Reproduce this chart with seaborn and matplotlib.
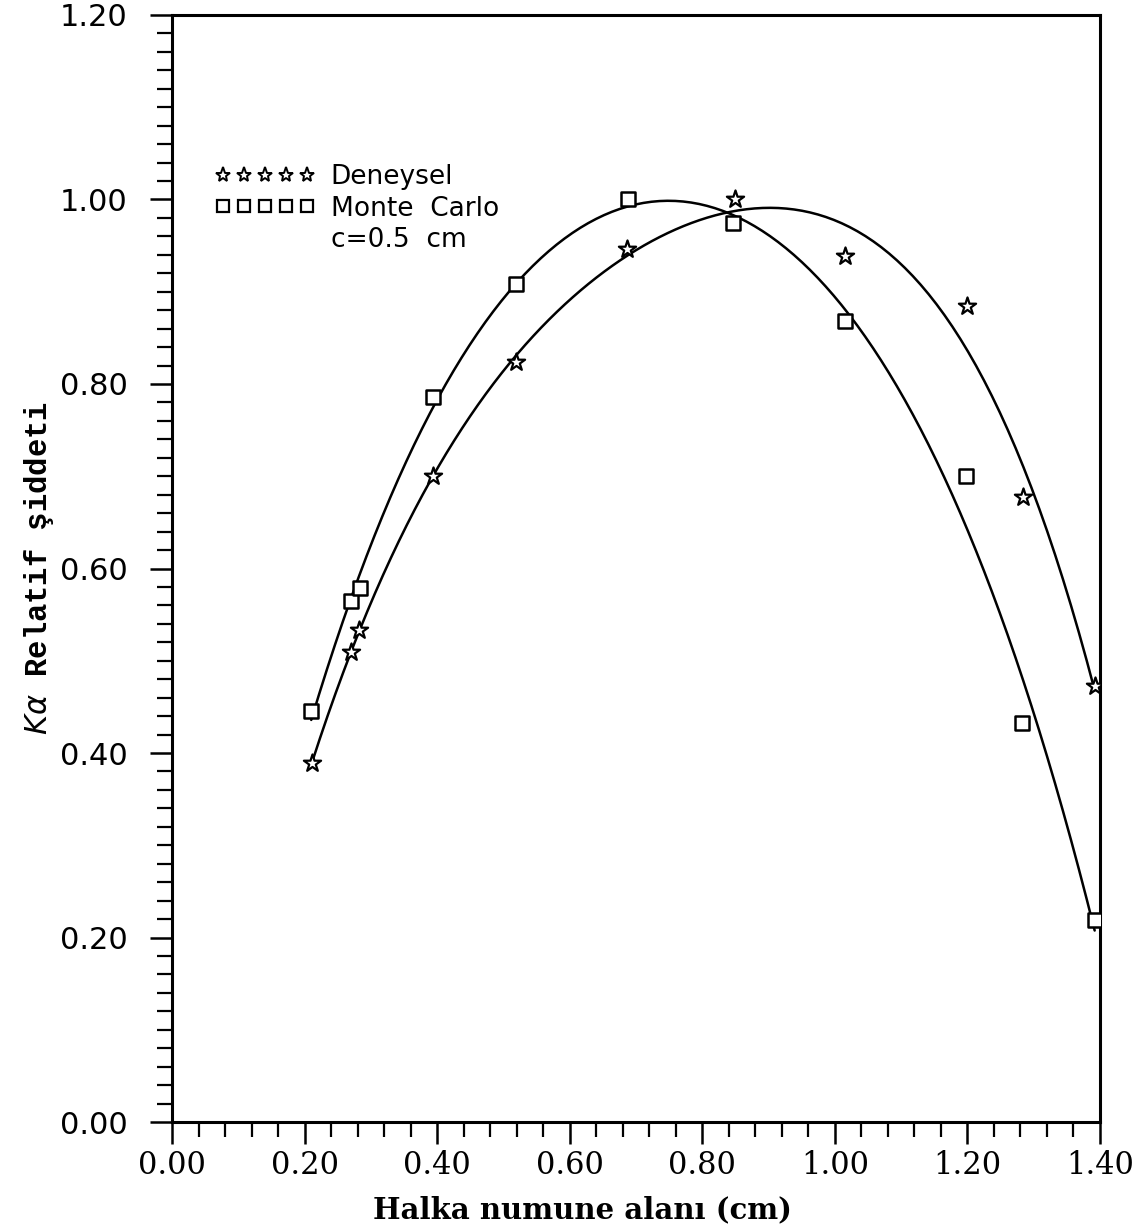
import numpy as np
import pandas as pd
import matplotlib
matplotlib.use('Agg')
import matplotlib.pyplot as plt
from matplotlib.lines import Line2D
from matplotlib.ticker import MultipleLocator, FormatStrFormatter
import seaborn as sns

# Halka numune alani (cm)
mc_x = [0.21, 0.27, 0.284, 0.394, 0.519, 0.688, 0.846, 1.015, 1.198, 1.282, 1.392]
mc_y = [0.445, 0.565, 0.579, 0.786, 0.908, 1.000, 0.974, 0.868, 0.700, 0.432, 0.219]
dn_x = [0.211, 0.27, 0.282, 0.394, 0.519, 0.686, 0.849, 1.015, 1.199, 1.284, 1.392]
dn_y = [0.389, 0.510, 0.533, 0.700, 0.824, 0.946, 1.000, 0.939, 0.885, 0.678, 0.473]

x_ticks = [0.00, 0.20, 0.40, 0.60, 0.80, 1.00, 1.20, 1.40]
y_ticks = [0.00, 0.20, 0.40, 0.60, 0.80, 1.00, 1.20]

sns.set_theme(style='white')
plt.rcParams['font.family'] = ['DejaVu Sans']
plt.rcParams['text.color'] = 'black'
plt.rcParams['axes.labelcolor'] = 'black'
plt.rcParams['xtick.color'] = 'black'
plt.rcParams['ytick.color'] = 'black'

mc = pd.DataFrame({'x': mc_x, 'y': mc_y})
dn = pd.DataFrame({'x': dn_x, 'y': dn_y})

fig = plt.figure(figsize=(11.47, 12.28), dpi=100)
ax = fig.add_axes([0.150, 0.0863, 0.809, 0.9015])

# fitted curves
sns.regplot(data=mc, x='x', y='y', order=4, ci=None, scatter=False, ax=ax,
            line_kws=dict(color='black', lw=1.8))
sns.regplot(data=dn, x='x', y='y', order=4, ci=None, scatter=False, ax=ax,
            line_kws=dict(color='black', lw=1.8))

# points
sns.scatterplot(data=mc, x='x', y='y', marker='s', s=100, facecolor='white',
                edgecolor='black', linewidth=1.8, ax=ax, zorder=5)
sns.scatterplot(data=dn, x='x', y='y', marker='*', s=170, facecolor='white',
                edgecolor='black', linewidth=1.6, ax=ax, zorder=5)

ax.set_xlim(0, 1.40)
ax.set_ylim(0, 1.20)
ax.set_xticks(x_ticks)
ax.set_yticks(y_ticks)
ax.xaxis.set_minor_locator(MultipleLocator(0.04))
ax.yaxis.set_minor_locator(MultipleLocator(0.02))
ax.xaxis.set_major_formatter(FormatStrFormatter('%.2f'))
ax.yaxis.set_major_formatter(FormatStrFormatter('%.2f'))

ax.tick_params(axis='both', which='major', direction='out', length=16, width=1.8,
               color='black', bottom=True, left=True)
ax.tick_params(axis='both', which='minor', direction='out', length=11, width=1.6,
               color='black', bottom=True, left=True)
ax.tick_params(axis='x', which='major', pad=4)
ax.tick_params(axis='y', which='major', pad=16)

for lab in ax.get_xticklabels():
    lab.set_fontfamily('DejaVu Serif')
    lab.set_fontsize(22)
for lab in ax.get_yticklabels():
    lab.set_fontfamily('DejaVu Sans')
    lab.set_fontsize(22)

for sp in ax.spines.values():
    sp.set_color('black')
    sp.set_linewidth(2.2)

ax.set_xlabel('Halka numune alanı (cm)', fontfamily='DejaVu Serif', fontsize=21,
              fontweight='bold')
ax.xaxis.set_label_coords(0.442, -0.066)
ax.set_ylabel(r'$K\alpha$ Relatif şiddeti', fontfamily='Liberation Mono', fontsize=22,
              fontweight='bold')
ax.yaxis.set_label_coords(-0.125, 0.5)

handles = [
    Line2D([], [], marker='*', ls='none', markersize=11, markerfacecolor='white',
           markeredgecolor='black', markeredgewidth=1.4),
    Line2D([], [], marker='s', ls='none', markersize=8, markerfacecolor='white',
           markeredgecolor='black', markeredgewidth=1.6),
    Line2D([], [], ls='none'),
]
ax.legend(handles, ['Deneysel', 'Monte  Carlo', 'c=0.5  cm'], loc='upper left',
          bbox_to_anchor=(0.046, 0.865), frameon=False, numpoints=5,
          handlelength=3.8, handletextpad=0.6, borderpad=0, borderaxespad=0,
          labelspacing=0.2, prop=dict(family='DejaVu Sans', size=19))

fig.savefig('out.png', dpi=100)
